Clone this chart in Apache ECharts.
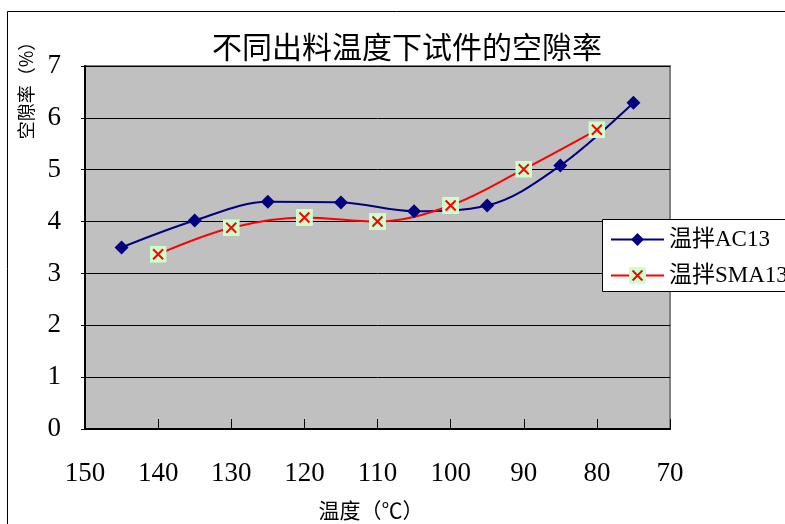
<!DOCTYPE html>
<html>
<head>
<meta charset="utf-8">
<script src="https://cdn.jsdelivr.net/npm/echarts@6/dist/echarts.min.js"></script>
<style>html,body{margin:0;padding:0;background:#fff;}#c{width:785px;height:524px;}</style>
</head>
<body>
<div id="c"></div>
<script>
var titleText = '不同出料温度下试件的空隙率';
var xName = '温度（℃）';
var yName = '空隙率（%）';
var seriesNames = ['温拌AC13', '温拌SMA13'];
var xAC13 = [145, 135, 125, 115, 105, 95, 85, 75];
var yAC13 = [3.5, 4.02, 4.38, 4.37, 4.2, 4.31, 5.08, 6.29];
var xSMA13 = [140, 130, 120, 110, 100, 90, 80];
var ySMA13 = [3.37, 3.88, 4.08, 4.0, 4.31, 5.01, 5.77];

var FONT = "'Liberation Serif', 'Noto Sans CJK SC', serif";
var svg = "<svg xmlns='http://www.w3.org/2000/svg' width='17' height='17'><rect width='17' height='17' fill='#ccffcc'/><path d='M3.5 3.5L13.5 13.5M13.5 3.5L3.5 13.5' stroke='#ff0000' stroke-width='2'/></svg>";
var xSym = 'image://data:image/svg+xml;charset=utf-8,' + encodeURIComponent(svg);

function pairs(xs, ys) { return xs.map(function (x, i) { return [x, ys[i]]; }); }

var legendBase = {
  orient: 'vertical', left: 610, padding: 0, itemWidth: 53, z: 10,
  textStyle: { fontFamily: FONT, fontSize: 23, color: '#000' }
};

var chart = echarts.init(document.getElementById('c'));
chart.setOption({
  animation: false,
  backgroundColor: '#fff',
  title: {
    text: titleText, left: 207, top: 27,
    textStyle: { fontFamily: "'Noto Sans CJK SC'", fontSize: 30, fontWeight: 'normal', color: '#000' }
  },
  grid: {
    left: 85, right: 115, top: 66, bottom: 95,
    show: true, backgroundColor: '#c0c0c0', borderColor: '#808080', borderWidth: 2
  },
  legend: [
    Object.assign({}, legendBase, { top: 228, itemHeight: 16, data: [seriesNames[0]] }),
    Object.assign({}, legendBase, { top: 264, itemHeight: 21, data: [seriesNames[1]] })
  ],
  xAxis: {
    type: 'value', min: 70, max: 150, interval: 10, inverse: true,
    axisLine: { show: true, onZero: false, lineStyle: { color: '#000', width: 2 } },
    axisTick: { show: true, inside: true, length: 10, lineStyle: { color: '#000', width: 1 } },
    axisLabel: { fontFamily: FONT, fontSize: 27, color: '#000', margin: 31 },
    splitLine: { show: false }
  },
  yAxis: {
    type: 'value', min: 0, max: 7, interval: 1,
    axisLine: { show: true, lineStyle: { color: '#000', width: 2 } },
    axisTick: { show: true, length: 4, lineStyle: { color: '#000' } },
    axisLabel: { fontFamily: FONT, fontSize: 27, color: '#000', margin: 24, padding: [6, 0, 0, 0] },
    splitLine: { show: true, lineStyle: { color: '#000', width: 1 } }
  },
  graphic: [
    { type: 'rect', shape: { x: 7.5, y: 11.5, width: 1000, height: 1000 }, style: { fill: 'none', stroke: '#000', lineWidth: 1 }, z: -1 },
    { type: 'rect', shape: { x: 602.5, y: 219.5, width: 400, height: 72 }, style: { fill: '#fff', stroke: '#000', lineWidth: 1 }, z: 3 },
    { type: 'text', x: 26, y: 86, rotation: Math.PI / 2,
      style: { text: yName, fontFamily: "'Noto Sans CJK SC'", fontSize: 18, fill: '#000', align: 'center', verticalAlign: 'middle' } },
    { type: 'text', x: 371, y: 510,
      style: { text: xName, fontFamily: "'Noto Sans CJK SC'", fontSize: 21, fill: '#000', align: 'center', verticalAlign: 'middle' } }
  ],
  series: [
    {
      name: seriesNames[0], type: 'line', smooth: 0.35,
      data: pairs(xAC13, yAC13),
      symbol: 'diamond', symbolSize: 14,
      itemStyle: { color: '#000080' },
      lineStyle: { color: '#000080', width: 2 }
    },
    {
      name: seriesNames[1], type: 'line', smooth: 0.35,
      data: pairs(xSMA13, ySMA13),
      symbol: xSym, symbolSize: 17,
      itemStyle: { color: '#ff0000' },
      lineStyle: { color: '#ff0000', width: 2 }
    }
  ]
});
</script>
</body>
</html>
